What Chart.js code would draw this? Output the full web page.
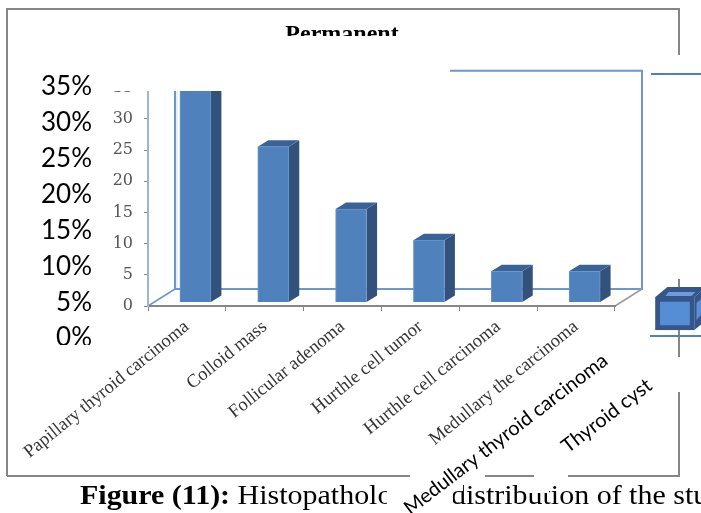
<!DOCTYPE html>
<html><head><meta charset="utf-8">
<script src="https://cdn.jsdelivr.net/npm/chart.js@4"></script>
<style>html,body{margin:0;padding:0;background:#fff;overflow:hidden}
canvas{position:absolute;left:0;top:0}</style></head>
<body>
<canvas id="base" width="701" height="513"></canvas>
<canvas id="over" width="701" height="513"></canvas>
<script>
const categories = ['Papillary thyroid carcinoma','Colloid mass','Follicular adenoma','Hurthle cell tumor','Hurthle cell carcinoma','Medullary the carcinoma'];
const counts = [35,25,15,10,5,5];
const yTicks = [0,5,10,15,20,25,30,35];
const overlayCategories = ['a','b','c','d','e','f','Medullary thyroid carcinoma','Thyroid cyst'];
const overlayValues = [null,null,null,null,null,null,null,4.6];
const percentTicks = [0,5,10,15,20,25,30,35];
const titleText = 'Permanent';
const captionBold = 'Figure (11):';
const captionMiddle = ' Histopathologic';
const captionRest = 'distribution of the study';

function line(c,pts,col,w){c.save();c.strokeStyle=col;c.lineWidth=w;c.beginPath();pts.forEach((p,i)=>i?c.lineTo(p[0],p[1]):c.moveTo(p[0],p[1]));c.stroke();c.restore();}
function poly(c,pts,col){c.save();c.fillStyle=col;c.beginPath();pts.forEach((p,i)=>i?c.lineTo(p[0],p[1]):c.moveTo(p[0],p[1]));c.closePath();c.fill();c.restore();}

const baseDecor = {
  id:'baseDecor',
  beforeDraw(ch){
    const c=ch.ctx,a=ch.chartArea;
    c.save();c.fillStyle='#fff';c.fillRect(0,0,701,513);c.restore();
    line(c,[[7,476],[7,9],[679,9],[679,476],[7,476]],'#868686',2);
    const dx=27,dy=-17;
    line(c,[[a.left+dx,a.top+dy],[a.left+dx,a.bottom+dy]],'#6d97cc',2);
    line(c,[[a.left+dx+2,a.top+dy],[a.left+dx+2,a.bottom+dy]],'#d3e0f0',1);
    line(c,[[a.left+dx,a.bottom+dy],[a.right+dx,a.bottom+dy],[a.right+dx,a.top+dy],[a.left+dx+275,a.top+dy]],'#6d97cc',2);
    line(c,[[a.left,a.bottom],[a.left+dx,a.bottom+dy]],'#6d97cc',1.5);
    line(c,[[a.right,a.bottom],[a.right+dx,a.bottom+dy]],'#9a9a9a',1.5);
  },
  beforeDatasetsDraw(ch){
    const c=ch.ctx;
    c.save();c.translate(8.5,-3.5);
    ch.getDatasetMeta(0).data.forEach(b=>{
      const l=b.x-b.width/2,r=b.x+b.width/2,t=b.y,bt=b.base,ox=10.5,oy=-6.5;
      poly(c,[[r,t],[r+ox,t+oy],[r+ox,bt+oy],[r,bt]],'#32527c');
      poly(c,[[l,t],[l+ox,t+oy],[r+ox,t+oy],[r,t]],'#3a6296');
    });
  },
  afterDatasetsDraw(ch){ch.ctx.restore();},
  afterDraw(ch){
    const c=ch.ctx;
    c.save();
    c.fillStyle='#fff';c.fillRect(9,36,441,55);
    c.fillStyle='#000';c.textBaseline='alphabetic';
    c.translate(80,504);c.scale(1.11,1);
    c.font='bold 27px "Liberation Serif"';
    c.fillText(captionBold,0,0);
    let w=c.measureText(captionBold).width;
    c.font='27px "Liberation Serif"';
    c.fillText(captionMiddle,w,0);
    w+=c.measureText(captionMiddle).width+c.measureText(' ').width+13;
    c.fillText(captionRest,w,0);
    c.restore();
  }
};
new Chart(document.getElementById('base'),{
  type:'bar',
  data:{labels:categories,datasets:[{data:counts,backgroundColor:'#4f81bd',borderColor:'#6a96cb',borderWidth:1,barThickness:31,clip:false}]},
  options:{responsive:false,animation:false,
    layout:{padding:{left:69,right:86,top:20,bottom:0}},
    plugins:{legend:{display:false},tooltip:{enabled:false},
      title:{display:true,text:titleText,color:'#000',font:{family:'"Liberation Serif"',size:24,weight:'bold'},padding:{top:0,bottom:39}}},
    scales:{
      x:{afterFit(s){s.height=207;},
        border:{color:'#868686',width:2},
        grid:{drawOnChartArea:false,drawTicks:true,tickLength:5,color:'#868686'},
        ticks:{autoSkip:false,minRotation:39,maxRotation:39,padding:5,color:'#333',font:{family:'"Liberation Serif"',size:18.5}}},
      y:{min:0,max:35,afterFit(s){s.width=79;},
        afterBuildTicks(s){s.ticks=yTicks.map(v=>({value:v}));},
        border:{color:'#9db6d6',width:2},
        grid:{drawOnChartArea:false,drawTicks:true,tickLength:4,color:'#868686'},
        ticks:{padding:11,color:'#555',font:{family:'"DejaVu Serif"',size:16}}}
    }},
  plugins:[baseDecor]
});

const overDecor = {
  id:'overDecor',
  beforeDraw(ch){
    const c=ch.ctx;
    c.save();c.fillStyle='#fff';
    c.fillRect(648,55,53,224);
    c.fillRect(670,357,20,35);
    c.fillRect(410,470,75,7);
    c.fillRect(534,470,34,7);
    c.fillRect(387,478,66,35);
    c.fillRect(453,478,10,13);
    c.fillRect(525,478,24,15);
    c.restore();
    line(c,[[651,74],[701,74]],'#4f81bd',2);
    line(c,[[650,336],[701,336]],'#4f81bd',2);
  },
  beforeDatasetsDraw(ch){
    const c=ch.ctx;
    c.save();c.translate(11.5,-8);
    ch.getDatasetMeta(0).data.forEach((b,i)=>{
      if(overlayValues[i]===null) return;
      const l=b.x-b.width/2,r=b.x+b.width/2,t=b.y,bt=b.base,ox=12,oy=-10;
      poly(c,[[r,t],[r+ox,t+oy],[r+ox,bt+oy],[r,bt]],'#34568a');
      poly(c,[[l,t],[l+ox,t+oy],[r+ox,t+oy],[r,t]],'#34568a');
      poly(c,[[l+10,t-1],[l+13,t-5],[r+1,t-5],[r-3,t-1]],'#6f9bd8');
      poly(c,[[r+2,t+6],[r+9,t+0],[r+9,bt-18],[r+2,bt-10]],'#5b8ed6');
    });
  },
  afterDatasetsDraw(ch){ch.ctx.restore();},
  afterDraw(ch){
    const c=ch.ctx,x=ch.scales.x;
    c.save();c.fillStyle='#fff';c.fillRect(30,345,75,20);c.restore();
    const lab=(i,dx,y)=>{
      c.save();c.translate(x.getPixelForValue(i)+dx,y);c.rotate(-37.5*Math.PI/180);
      c.textAlign='right';c.textBaseline='middle';c.fillStyle='#000';
      c.font='20px Lato';c.fillText(overlayCategories[i],0,0);c.restore();
    };
    lab(6,17,358);lab(7,-14,383);
  }
};
new Chart(document.getElementById('over'),{
  type:'bar',
  data:{labels:overlayCategories,datasets:[{data:overlayValues,backgroundColor:'#558ed5',borderColor:'#34568a',borderWidth:5,borderSkipped:false,barThickness:39,clip:false}]},
  options:{responsive:false,animation:false,
    layout:{padding:{left:0,right:0,top:87,bottom:175}},
    plugins:{legend:{display:false},tooltip:{enabled:false},title:{display:false}},
    scales:{
      x:{display:false},
      y:{min:0,max:35,afterFit(s){s.width=100;},
        afterBuildTicks(s){s.ticks=percentTicks.map(v=>({value:v}));},
        border:{display:false},
        grid:{display:false,drawTicks:false},
        ticks:{padding:8,color:'#000',callback:v=>v+'%',font:{family:'Lato',size:26}}}
    }},
  plugins:[overDecor]
});
</script>
</body></html>
